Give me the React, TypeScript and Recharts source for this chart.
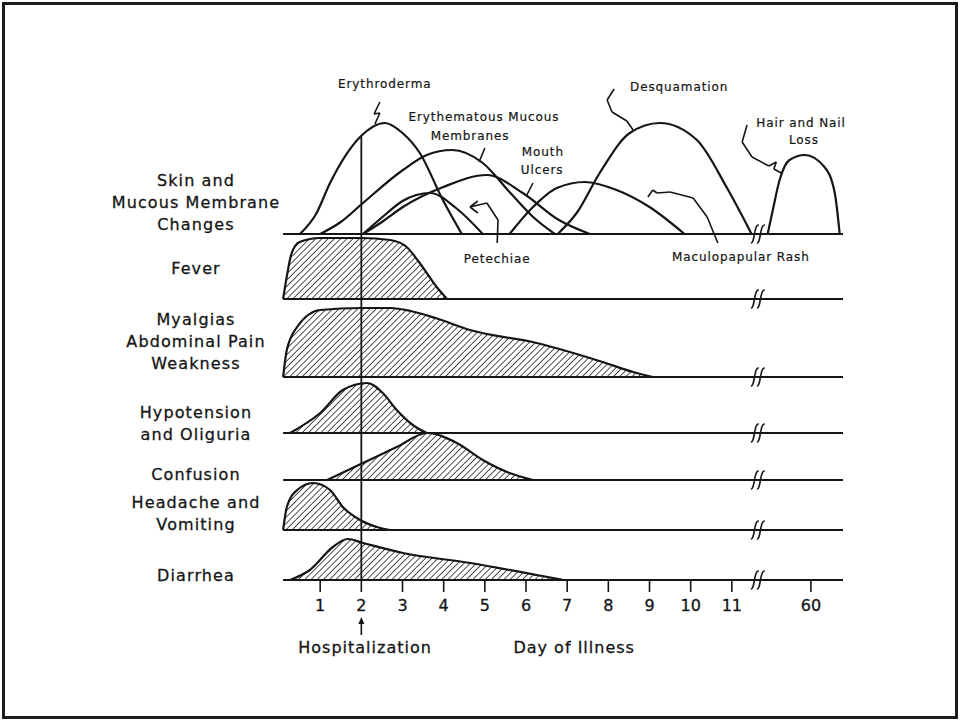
import { ComposedChart, Area, Line, XAxis, YAxis, ReferenceLine, ReferenceDot } from 'recharts'

type Pt = [number, number]

// [day of illness, height above the row baseline]
const erythroderma: Pt[] = [[0.51, 0], [0.9, 20], [1.24, 51], [1.97, 97], [2.57, 111], [3.0, 101], [3.42, 81], [3.98, 34], [4.44, 0]]
const mucousMembranes: Pt[] = [[1.0, 0], [1.5, 12], [2.04, 31], [3.01, 64], [3.59, 79], [4.2, 84], [4.95, 71], [5.6, 42], [6.2, 16], [6.7, 0]]
const mouthUlcers: Pt[] = [[2.04, 0], [2.5, 12], [3.01, 27], [3.99, 47], [5.05, 59], [5.92, 41], [6.8, 14], [7.55, 0]]
const petechiae: Pt[] = [[2.04, 0], [2.6, 20], [3.0, 33], [3.67, 41], [4.3, 26], [4.95, 0]]
const maculopapular: Pt[] = [[5.6, 0], [6.17, 27], [6.75, 46], [7.43, 52], [8.2, 44], [9.0, 27], [9.85, 0]]
const desquamation: Pt[] = [[6.77, 0], [7.23, 21], [7.79, 61], [8.52, 101], [9.25, 111], [10.15, 94], [10.87, 47], [11.48, 0]]
const hairNailLoss: Pt[] = [[11.87, 0], [12.0, 25], [12.16, 54], [12.4, 74], [12.77, 79], [13.25, 67], [13.5, 41], [13.62, 0]]

const fever: Pt[] = [[0.1, 0], [0.2, 25], [0.3, 45], [0.5, 57], [1.0, 61], [2.0, 61], [2.7, 59], [3.1, 52], [3.4, 37], [3.83, 12], [4.08, 0]]
const myalgias: Pt[] = [[0.1, 0], [0.19, 27], [0.44, 50], [1.0, 67], [2.0, 69], [2.7, 69], [3.2, 66], [3.8, 59], [4.64, 47], [6.26, 34], [7.86, 15], [8.6, 5], [9.08, 0]]
const hypotension: Pt[] = [[0.27, 0], [1.0, 20], [1.55, 43], [2.14, 50], [2.52, 40], [2.86, 23], [3.25, 8], [3.59, 0]]
const confusion: Pt[] = [[1.17, 0], [2.04, 17], [2.86, 33], [3.6, 47], [4.32, 37], [4.95, 20], [5.6, 7], [6.17, 0]]
const headache: Pt[] = [[0.1, 0], [0.19, 23], [0.44, 40], [0.83, 47], [1.24, 40], [1.55, 23], [1.97, 10], [2.38, 3], [2.7, 0]]
const diarrhea: Pt[] = [[0.27, 0], [0.75, 10], [1.31, 33], [1.67, 41], [2.04, 37], [3.01, 27], [4.64, 17], [6.26, 5], [6.9, 0]]

const TICK_DAYS = [1, 2, 3, 4, 5, 6, 7, 8, 9, 10, 11, 12.92]
const TICK_LABELS = ['1', '2', '3', '4', '5', '6', '7', '8', '9', '10', '11', '60']
const BREAK_DAY = 11.68

const ROW_BASE = { skin: 346, fever: 281, myalgias: 203, hypotension: 147, confusion: 100, headache: 50, diarrhea: 0 }
const ROW_LABELS = [
  ['Skin and', 'Mucous Membrane', 'Changes'],
  ['Fever'],
  ['Myalgias', 'Abdominal Pain', 'Weakness'],
  ['Hypotension', 'and Oliguria'],
  ['Confusion'],
  ['Headache and', 'Vomiting'],
  ['Diarrhea'],
]
const ROW_LABEL_Y = [378, 312, 239, 157, 106, 67, 5]

// annotation text: [label, day, y]
const NOTES: [string, number, number][] = [
  ['Erythroderma', 2.57, 496],
  ['Erythematous Mucous', 4.98, 463],
  ['Membranes', 4.64, 444],
  ['Mouth', 6.41, 428],
  ['Ulcers', 6.39, 410],
  ['Petechiae', 5.3, 321],
  ['Desquamation', 9.72, 493],
  ['Hair and Nail', 12.68, 457],
  ['Loss', 12.75, 440],
  ['Maculopapular Rash', 11.22, 323],
  ['Hospitalization', 2.09, -67],
  ['Day of Illness', 7.17, -67],
]

const LEADERS: Pt[][] = [
  [[2.45, 478], [2.31, 466], [2.45, 467], [2.33, 456]],
  [[5.0, 432], [4.86, 418]],
  [[6.17, 397], [6.02, 385]],
  [[5.3, 337], [5.32, 360], [5.05, 377], [4.64, 373]],
  [[4.64, 373], [4.83, 379]],
  [[4.64, 373], [4.83, 367]],
  [[8.14, 491], [7.97, 480], [8.09, 468], [8.45, 459], [8.6, 450]],
  [[11.37, 455], [11.25, 438], [11.49, 423], [11.9, 414], [12.08, 418], [12.02, 411], [12.2, 407]],
  [[10.66, 337], [10.4, 363], [10.06, 382], [9.5, 388], [9.18, 387], [9.08, 390], [8.96, 383]],
]

const INK = '#151515'
const FONT = '"DejaVu Sans", Arial, sans-serif'

const toRow = (pts: Pt[], base: number) => pts.map(([day, h]) => ({ day, v: base + h }))

const skinCurves = [erythroderma, mucousMembranes, mouthUlcers, petechiae, maculopapular, desquamation, hairNailLoss]
const hatchedRows: [Pt[], number][] = [
  [fever, ROW_BASE.fever],
  [myalgias, ROW_BASE.myalgias],
  [hypotension, ROW_BASE.hypotension],
  [confusion, ROW_BASE.confusion],
  [headache, ROW_BASE.headache],
  [diarrhea, ROW_BASE.diarrhea],
]

function RowLabel(props: any) {
  const { y, payload } = props
  const idx = ROW_LABEL_Y.indexOf(payload.value)
  const lines = ROW_LABELS[idx] || []
  const top = y - ((lines.length - 1) * 22) / 2
  return (
    <text x={196} y={top} textAnchor="middle" fontFamily={FONT} fontSize={16} fill={INK} stroke={INK} strokeWidth={0.3} style={{ letterSpacing: 1.1 }}>
      {lines.map((l, i) => (
        <tspan key={i} x={196} y={top + i * 22} dy="0.36em">{l}</tspan>
      ))}
    </text>
  )
}

function BreakMark(props: any) {
  const { cx, cy } = props
  const s = (o: number) => `M ${cx + o - 6} ${cy + 9} C ${cx + o - 2} ${cy + 10} ${cx + o - 3} ${cy - 10} ${cx + o + 2} ${cy - 9}`
  return (
    <g>
      <path d={s(-3)} stroke={INK} strokeWidth={1.6} fill="none" />
      <path d={s(3)} stroke={INK} strokeWidth={1.6} fill="none" />
    </g>
  )
}

function NoteText(props: any) {
  const { cx, cy, value, size } = props
  return (
    <text x={cx} y={cy} dy="0.36em" textAnchor="middle" fontFamily={FONT} fontSize={size} fill={INK} stroke={INK} strokeWidth={size > 14 ? 0.3 : 0.2} style={{ letterSpacing: size > 14 ? 1 : 0.9 }}>
      {value}
    </text>
  )
}

function UpArrow(props: any) {
  const { cx, cy } = props
  return (
    <g>
      <line x1={cx} y1={cy + 9} x2={cx} y2={cy - 4} stroke={INK} strokeWidth={1.6} />
      <path d={`M ${cx - 3} ${cy - 2} L ${cx} ${cy - 9} L ${cx + 3} ${cy - 2} Z`} fill={INK} />
    </g>
  )
}

export default function App() {
  return (
    <div style={{ position: 'absolute', left: 0, top: 0, width: 960, height: 721, background: '#fff' }}>
      <div style={{ position: 'absolute', left: 2, top: 2, width: 956, height: 717, border: '3px solid #1c1c1c', boxSizing: 'border-box' }} />
      <ComposedChart width={960} height={721} margin={{ top: 80, right: 117, bottom: 111, left: 0 }} style={{ position: 'absolute', left: 0, top: 0 }}>
        <defs>
          <pattern id="hatch" width="4.4" height="4.4" patternUnits="userSpaceOnUse" patternTransform="rotate(45)">
            <line x1="0" y1="0" x2="0" y2="4.4" stroke={INK} strokeWidth="1.5" />
          </pattern>
        </defs>
        <XAxis
          type="number"
          dataKey="day"
          domain={[0, 13.7]}
          allowDataOverflow
          ticks={TICK_DAYS}
          interval={0}
          tickFormatter={(v: number) => TICK_LABELS[TICK_DAYS.indexOf(v)]}
          height={30}
          axisLine={false}
          tickSize={12}
          tickMargin={8}
          tickLine={{ stroke: INK, strokeWidth: 1.6 }}
          tick={{ fontSize: 16, fill: INK, fontFamily: FONT, stroke: INK, strokeWidth: 0.3 }}
        />
        <YAxis
          type="number"
          domain={[0, 500]}
          allowDataOverflow
          ticks={ROW_LABEL_Y}
          interval={0}
          width={279}
          axisLine={false}
          tickLine={false}
          tick={<RowLabel />}
        />
        {Object.values(ROW_BASE).map((b) => (
          <ReferenceLine key={'base' + b} segment={[{ x: 0.1, y: b }, { x: 13.7, y: b }]} stroke={INK} strokeWidth={1.8} />
        ))}
        {hatchedRows.map(([pts, base], i) => (
          <Area
            key={'row' + i}
            data={toRow(pts, base)}
            dataKey="v"
            type="monotone"
            baseValue={base}
            stroke={INK}
            strokeWidth={2.2}
            fill="url(#hatch)"
            fillOpacity={1}
            dot={false}
            activeDot={false}
            isAnimationActive={false}
          />
        ))}
        {skinCurves.map((pts, i) => (
          <Line
            key={'skin' + i}
            data={toRow(pts, ROW_BASE.skin)}
            dataKey="v"
            type="monotone"
            stroke={INK}
            strokeWidth={2.2}
            dot={false}
            activeDot={false}
            isAnimationActive={false}
          />
        ))}
        <ReferenceLine segment={[{ x: 2, y: 443 }, { x: 2, y: 0 }]} stroke={INK} strokeWidth={1.8} />
        {Object.values(ROW_BASE).map((b) => (
          <ReferenceDot key={'brk' + b} x={BREAK_DAY} y={b} r={0} shape={<BreakMark />} ifOverflow="visible" />
        ))}
        {LEADERS.flatMap((pts, j) =>
          pts.slice(1).map((p, i) => (
            <ReferenceLine
              key={'ld' + j + '-' + i}
              segment={[{ x: pts[i][0], y: pts[i][1] }, { x: p[0], y: p[1] }]}
              stroke={INK}
              strokeWidth={1.6}
              ifOverflow="visible"
            />
          ))
        )}
        {NOTES.map(([label, day, y]) => (
          <ReferenceDot
            key={label}
            x={day}
            y={y}
            r={0}
            ifOverflow="visible"
            shape={<NoteText value={label} size={y < 0 ? 16 : 12} />}
          />
        ))}
        <ReferenceDot x={2} y={-46} r={0} ifOverflow="visible" shape={<UpArrow />} />
      </ComposedChart>
    </div>
  )
}
